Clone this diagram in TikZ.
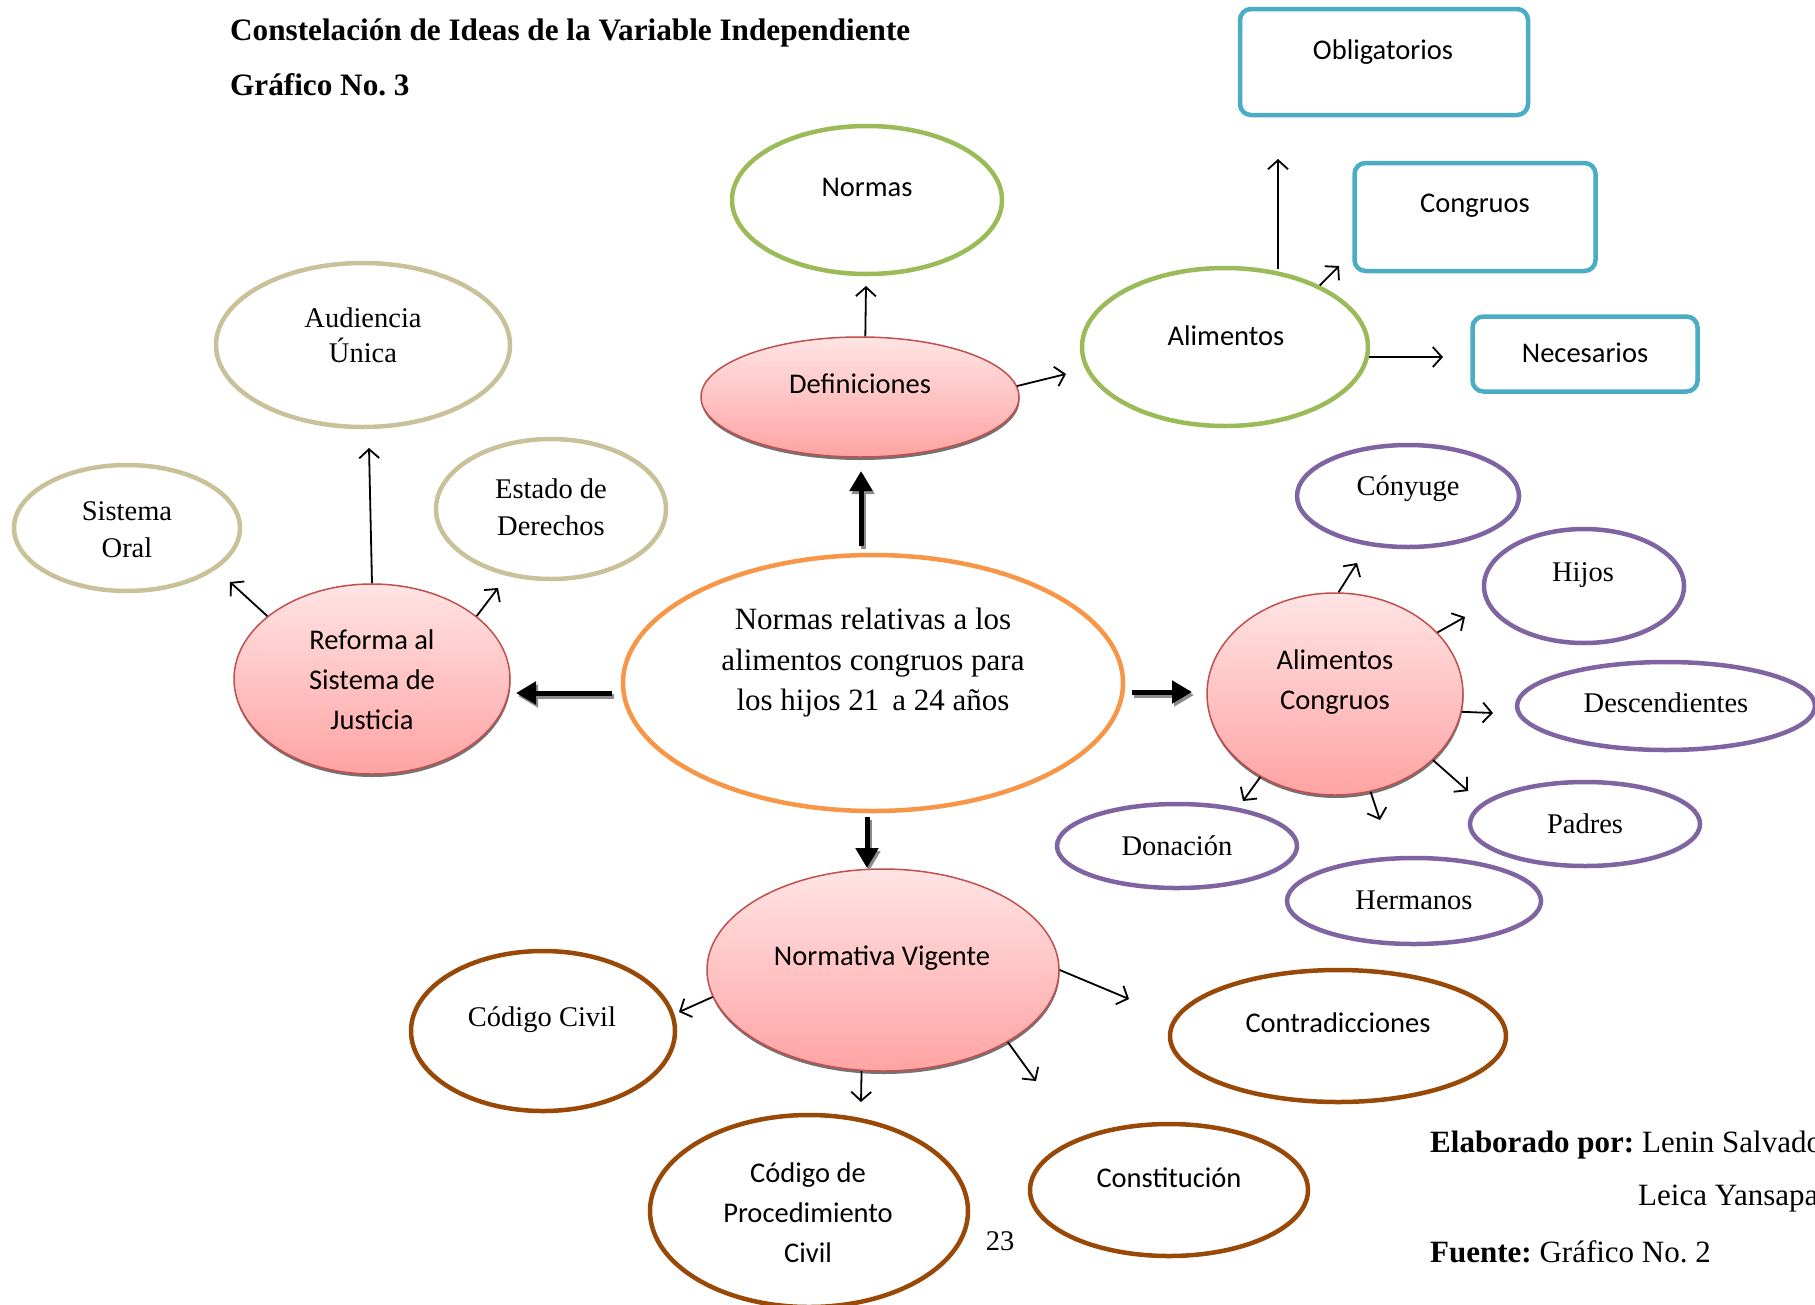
\documentclass[tikz,border=0pt]{standalone}
\usepackage{fontspec}
\setmainfont{Liberation Serif}
\newfontfamily\calibri{Carlito}
\usetikzlibrary{arrows.meta,shadows,shapes.geometric}
\frenchspacing
\definecolor{cgreen}{HTML}{9BBB59}
\definecolor{cblue}{HTML}{4BACC6}
\definecolor{ctan}{HTML}{C9C19A}
\definecolor{corange}{HTML}{F79646}
\definecolor{cpurple}{HTML}{8064A2}
\definecolor{cbrown}{HTML}{984807}
\definecolor{pinkborder}{HTML}{C0504D}
\definecolor{pinktop}{HTML}{FFE4E4}
\definecolor{pinkbot}{HTML}{FFA3A3}
\tikzset{
  oval/.style={ellipse, draw=#1, line width=4.5pt, inner sep=0pt},
  box/.style={rectangle, rounded corners=11pt, draw=cblue, line width=4.5pt, inner sep=0pt},
  pinknode/.style={ellipse, draw=pinkborder, line width=1.5pt, inner sep=0pt,
    top color=pinktop, bottom color=pinkbot,
    drop shadow={shadow xshift=0.5pt, shadow yshift=-3pt, fill=black!55, opacity=1}},
  sz/.style 2 args={minimum width=#1, minimum height=#2},
  sanstxt/.style={inner sep=0pt, align=center, yshift=-2pt, font=\calibri\fontsize{28.5}{40}\selectfont},
  sertxt/.style={inner sep=0pt, align=center, yshift=-3pt, font=\fontsize{28.5}{37}\selectfont},
  credit/.style={anchor=west, inner sep=0pt, yshift=-3pt, font=\fontsize{31}{36}\selectfont},
  tarrow/.style={line width=1.8pt, -{Straight Barb[length=9pt,width=20pt]}},
  bigarrow/.style={line width=5pt, -{Triangle[length=20pt,width=22pt]}},
  bigshadow/.style={line width=5pt, draw=black!45, -{Triangle[length=20pt,width=22pt,fill=black!45]}},
}
\begin{document}
\begin{tikzpicture}[x=1pt,y=-1pt]
\useasboundingbox (0,0) rectangle (1815,1304);
\fill[white] (0,0) rectangle (1815,1304);

% titles
\node[anchor=west, inner sep=0pt, font=\bfseries\fontsize{31.2}{36}\selectfont] (title) at (230,33) {Constelación de Ideas de la Variable Independiente};
\node[anchor=west, inner sep=0pt, font=\bfseries\fontsize{31.2}{36}\selectfont] (graf) at (230,85) {Gráfico No. 3};

% boxes
\node[box, sz={288pt}{106pt}] (obl) at (1384,62) {};
\node[box, sz={241pt}{108pt}] (con) at (1475,217) {};
\node[box, sz={225pt}{75pt}] (nec) at (1585,354) {};

% green
\node[oval=cgreen, sz={270pt}{148pt}] (norm) at (867,200) {};
\node[oval=cgreen, sz={286pt}{158pt}] (alim) at (1225,347) {};

% tan
\node[oval=ctan, sz={294pt}{164pt}] (aud) at (363,345) {};
\node[oval=ctan, sz={226pt}{126pt}] (oral) at (127,528) {};
\node[oval=ctan, sz={230pt}{140pt}] (est) at (551,509) {};

% center
\node[oval=corange, sz={500pt}{256pt}] (cen) at (873,683) {};

% purple
\node[oval=cpurple, sz={222pt}{102pt}] (cony) at (1408,496) {};
\node[oval=cpurple, sz={200pt}{114pt}] (hij) at (1584,586) {};
\node[oval=cpurple, sz={298pt}{88pt}] (desc) at (1666,706) {};
\node[oval=cpurple, sz={230pt}{84pt}] (pad) at (1585,824) {};
\node[oval=cpurple, sz={254pt}{86pt}] (her) at (1414,901) {};
\node[oval=cpurple, sz={240pt}{84pt}] (don) at (1177,846) {};

% brown
\node[oval=cbrown, sz={264pt}{160pt}] (cciv) at (543,1031) {};
\node[oval=cbrown, sz={336pt}{132pt}] (contra) at (1338,1036) {};
\node[oval=cbrown, sz={318pt}{192pt}] (cpc) at (809,1211) {};
\node[oval=cbrown, sz={278pt}{132pt}] (const) at (1169,1190) {};

% pink
\node[pinknode, sz={318pt}{120pt}] (def) at (860,397) {};
\node[pinknode, sz={276pt}{190pt}] (ref) at (372,679) {};
\node[pinknode, sz={256pt}{202pt}] (ac) at (1335,694) {};
\node[pinknode, sz={352pt}{202pt}] (nv) at (883,970) {};

% texts
\node[sanstxt] (t-obl) at (1383,50) {Obligatorios};
\node[sanstxt] (t-con) at (1475,204) {Congruos};
\node[sanstxt] (t-nec) at (1585,351) {Necesarios};
\node[sanstxt] (t-norm) at (867,185) {Normas};
\node[sanstxt] (t-alim) at (1226,334) {Alimentos};
\node[sanstxt] (t-def) at (860,382) {Definiciones};
\node[sertxt] (t-aud) at (363,332) {Audiencia\\[-2pt]Única};
\node[sertxt] (t-oral) at (127,527) {Sistema\\Oral};
\node[sertxt] (t-est) at (551,504) {Estado de\\Derechos};
\node[sanstxt] (t-ref) at (372,678) {Reforma al\\Sistema de\\Justicia};
\node[inner sep=0pt, align=center, yshift=-3pt, font=\fontsize{31}{40.5}\selectfont] (t-cen) at (873,660) {Normas relativas a los\\alimentos congruos para\\los hijos 21 \,a 24 años};
\node[sanstxt] (t-ac) at (1335,680) {Alimentos\\Congruos};
\node[sertxt] (t-cony) at (1408,486) {Cónyuge};
\node[sertxt] (t-hij) at (1583,572) {Hijos};
\node[sertxt] (t-desc) at (1666,700) {Descendientes};
\node[sertxt] (t-pad) at (1585,821) {Padres};
\node[sertxt] (t-her) at (1414,897) {Hermanos};
\node[sertxt] (t-don) at (1177,843) {Donación};
\node[sanstxt] (t-nv) at (882,956) {Normativa Vigente};
\node[sertxt] (t-cciv) at (542,1017) {Código Civil};
\node[sanstxt] (t-contra) at (1338,1021) {Contradicciones};
\node[sanstxt] (t-cpc) at (808,1211) {Código de\\Procedimiento\\Civil};
\node[sanstxt] (t-const) at (1169,1176) {Constitución};
\node[sertxt] (t-23) at (1000,1238) {23};

% credits
\node[credit] (elab) at (1430,1142) {\textbf{Elaborado por:} Lenin Salvado};
\node[credit] (leica) at (1638,1196) {Leica Yansapa};
\node[credit] (fuente) at (1430,1249) {\textbf{Fuente:} Gráfico No. 2};

% thick arrow coordinates
\coordinate (u0) at (861,546); \coordinate (u1) at (861,471);
\coordinate (l0) at (612,693); \coordinate (l1) at (516,693);
\coordinate (r0) at (1132,692); \coordinate (r1) at (1192,692);
\coordinate (d0) at (867,817); \coordinate (d1) at (867,868);
\foreach \a/\b in {u0/u1,l0/l1,r0/r1,d0/d1}{
  \draw[bigshadow] ([shift={(2pt,-3pt)}]\a) -- ([shift={(2pt,-3pt)}]\b);
}
\draw[bigarrow] (u0) -- (u1);
\draw[bigarrow] (l0) -- (l1);
\draw[bigarrow] (r0) -- (r1);
\draw[bigarrow] (d0) -- (d1);

% thin arrows end points
\coordinate (e-norm) at (866,286);
\coordinate (e-alim) at (1066,374);
\coordinate (e-obl) at (1278,159);
\coordinate (s-obl) at (1278,269);
\coordinate (e-con) at (1339,266);
\coordinate (e-nec) at (1443,357);
\coordinate (e-aud) at (369,448);
\coordinate (e-oral) at (230,582);
\coordinate (e-est) at (498,588);
\coordinate (e-cony) at (1357,563);
\coordinate (e-hij) at (1465,617);
\coordinate (e-desc) at (1493,713);
\coordinate (e-pad) at (1468,791);
\coordinate (e-her) at (1380,820);
\coordinate (e-don) at (1243,801);
\coordinate (e-cciv) at (679,1012);
\coordinate (e-contra) at (1129,999);
\coordinate (e-const) at (1036,1081);
\coordinate (e-cpc) at (861,1102);

\draw[tarrow] (def.85) -- (e-norm);
\draw[tarrow] (def.4) -- (e-alim);
\draw[tarrow] (s-obl) -- (e-obl);
\draw[tarrow] (alim.33) -- (e-con);
\draw[tarrow] (alim.-4) -- (e-nec);
\draw[tarrow] (ref.north) -- (e-aud);
\draw[tarrow] (ref.149) -- (e-oral);
\draw[tarrow] (ref.31) -- (e-est);
\draw[tarrow] (ac.88) -- (e-cony);
\draw[tarrow] (ac.31) -- (e-hij);
\draw[tarrow] (ac.-8) -- (e-desc);
\draw[tarrow] (ac.-34) -- (e-pad);
\draw[tarrow] (ac.-70) -- (e-her);
\draw[tarrow] (ac.-132) -- (e-don);
\draw[tarrow] (nv.189) -- (e-cciv);
\draw[tarrow] (nv.0) -- (e-contra);
\draw[tarrow] (nv.-30) -- (e-const);
\draw[tarrow] (nv.-102) -- (e-cpc);
\end{tikzpicture}
\end{document}
